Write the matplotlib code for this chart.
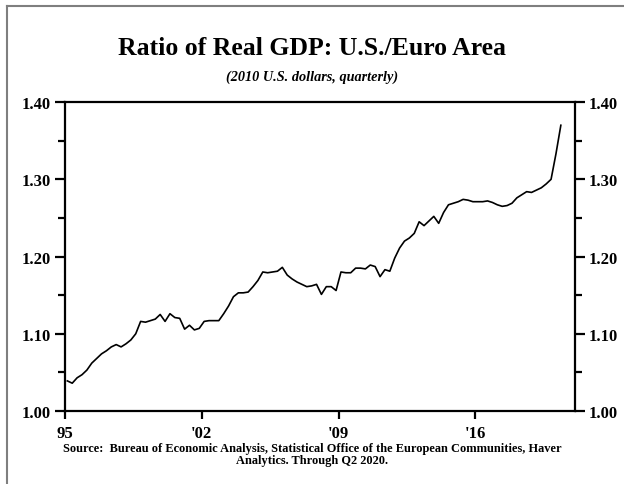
import matplotlib

matplotlib.use("Agg")

import matplotlib.pyplot as plt
from matplotlib.lines import Line2D
from matplotlib.ticker import FixedLocator, MultipleLocator

# Ratio of real GDP, U.S./Euro area, quarterly 1995Q1 .. 2020Q2
start_year = 1995
ratio = [
    1.039, 1.036, 1.043, 1.047, 1.053, 1.062, 1.068, 1.074,  # 95-96
    1.078, 1.083, 1.086, 1.083, 1.087, 1.092, 1.100, 1.116,  # 97-98
    1.115, 1.117, 1.119, 1.125, 1.116, 1.126, 1.121, 1.120,  # 99-00
    1.106, 1.111, 1.105, 1.107, 1.116, 1.117, 1.117, 1.117,  # 01-02
    1.126, 1.136, 1.148, 1.153, 1.153, 1.154, 1.161, 1.169,  # 03-04
    1.180, 1.179, 1.180, 1.181, 1.186, 1.176, 1.171, 1.167,  # 05-06
    1.164, 1.161, 1.162, 1.164, 1.151, 1.161, 1.161, 1.156,  # 07-08
    1.180, 1.179, 1.179, 1.185, 1.185, 1.184, 1.189, 1.187,  # 09-10
    1.174, 1.183, 1.181, 1.198, 1.211, 1.220, 1.224, 1.230,  # 11-12
    1.245, 1.240, 1.246, 1.252, 1.243, 1.257, 1.267, 1.269,  # 13-14
    1.271, 1.274, 1.273, 1.271, 1.271, 1.271, 1.272, 1.270,  # 15-16
    1.267, 1.265, 1.266, 1.269, 1.276, 1.280, 1.284, 1.283,  # 17-18
    1.286, 1.289, 1.294, 1.300, 1.333, 1.370,                # 19-20Q2
]
quarters = [start_year + (i + 0.5) / 4 for i in range(len(ratio))]

tick_years = [1995, 2002, 2009, 2016]
tick_labels = ["95", "'02", "'09", "'16"]
y_ticks = [1.00, 1.10, 1.20, 1.30, 1.40]

plt.rcParams["font.family"] = ["Liberation Serif", "DejaVu Serif"]
plt.rcParams["font.weight"] = "bold"

fig = plt.figure(figsize=(6.24, 4.85), dpi=100)
fig.patch.set_facecolor("white")
ax = fig.add_axes([0.104, 0.1505, 0.8175, 0.637])

ax.plot(quarters, ratio, color="black", linewidth=1.2)

ax.set_xlim(1995, 2021.1)
ax.set_ylim(1.00, 1.40)
ax.xaxis.set_major_locator(FixedLocator(tick_years))
ax.set_xticklabels(tick_labels)
ax.yaxis.set_major_locator(FixedLocator(y_ticks))
ax.yaxis.set_minor_locator(MultipleLocator(0.05))
ax.yaxis.set_major_formatter(lambda v, _p: f"{v:.2f}")

for side in ax.spines.values():
    side.set_linewidth(1.6)
    side.set_color("black")

ax.tick_params(axis="y", which="major", direction="out", length=7, width=1.6,
               labelsize=12, pad=3, left=True, right=True,
               labelleft=True, labelright=True)
ax.tick_params(axis="y", which="minor", direction="out", length=5, width=1.6,
               left=True, right=True)
ax.tick_params(axis="x", which="major", direction="out", length=6, width=1.6,
               labelsize=12, pad=4)
for lbl in ax.get_xticklabels() + ax.get_yticklabels():
    lbl.set_fontweight("bold")

fig.text(0.5, 0.901, "Ratio of Real GDP: U.S./Euro Area", ha="center",
         va="center", fontsize=18.5, fontweight="bold")
fig.text(0.5, 0.840, "(2010 U.S. dollars, quarterly)", ha="center",
         va="center", fontsize=10.3, fontweight="bold", style="italic")
fig.text(0.5, 0.062,
         "Source:  Bureau of Economic Analysis, Statistical Office of the "
         "European Communities, Haver\nAnalytics. Through Q2 2020.",
         ha="center", va="center", fontsize=8.9, fontweight="bold",
         linespacing=1.0)

# grey frame (top and left edges of the page box)
frame = dict(color="#7f7f7f", linewidth=1.5, transform=fig.transFigure)
fig.add_artist(Line2D([0.012, 0.012], [0.0, 0.986], **frame))
fig.add_artist(Line2D([0.012, 1.0], [0.986, 0.986], **frame))

fig.savefig("out.png", dpi=100, facecolor="white")
plt.close(fig)
